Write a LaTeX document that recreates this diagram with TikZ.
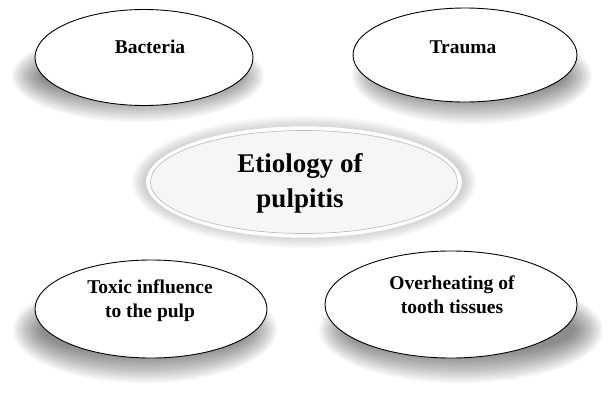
\documentclass[tikz,border=0pt]{standalone}
\usepackage{fontspec}
\setmainfont{Liberation Serif}
\usetikzlibrary{shapes.geometric}
\newcommand{\blurell}[5]{%
  \foreach \k in {0,...,13}{%
    \fill[black,opacity=#5] (#1,#2) ellipse [x radius={#3-\k*2.2}, y radius={#4-\k*2.2}];}}
\begin{document}
\begin{tikzpicture}[x=1pt,y=-1pt,
  cause/.style={ellipse, draw=black, line width=0.9pt, fill=white, inner sep=0pt},
  lbl/.style={font=\bfseries\fontsize{19.5}{24}\selectfont, align=center, inner sep=0pt, anchor=base},
  biglbl/.style={font=\bfseries\fontsize{27}{35}\selectfont, align=center, inner sep=0pt, anchor=base}]
\fill[white] (0,0) rectangle (609,402);
\useasboundingbox (0,0) rectangle (609,402);

% soft shadows
\blurell{304}{182}{172}{66}{0.03}
\blurell{138}{76}{126}{46}{0.04}
\blurell{472}{76}{120}{48}{0.04}
\blurell{145}{330}{132}{53}{0.04}
\blurell{461}{330}{142}{53}{0.04}

% central
\node[ellipse, minimum width=316pt, minimum height=112pt, inner sep=0pt, fill=white, draw=gray!30, line width=0.6pt] (crim) at (304,182) {};
\node[ellipse, minimum width=307pt, minimum height=103pt, inner sep=0pt, fill=gray!7, draw=gray!50, line width=0.7pt] (center) at (304,182) {};
\node[biglbl] (centerT) at (300,207) {Etiology of\\pulpitis};

% four causes
\node[cause, minimum width=218pt, minimum height=96pt] (bact) at (144,57.5) {};
\node[lbl] (bactT) at (150,53) {Bacteria};

\node[cause, minimum width=224pt, minimum height=94pt] (trauma) at (465,55) {};
\node[lbl] (traumaT) at (463,53) {Trauma};

\node[cause, minimum width=232pt, minimum height=98pt] (toxic) at (151,309) {};
\node[lbl] (toxicT) at (150,317) {Toxic influence\\to the pulp};

\node[cause, minimum width=252pt, minimum height=107pt] (heat) at (451,304.5) {};
\node[lbl] (heatT) at (452,313) {Overheating of\\tooth tissues};
\end{tikzpicture}
\end{document}
